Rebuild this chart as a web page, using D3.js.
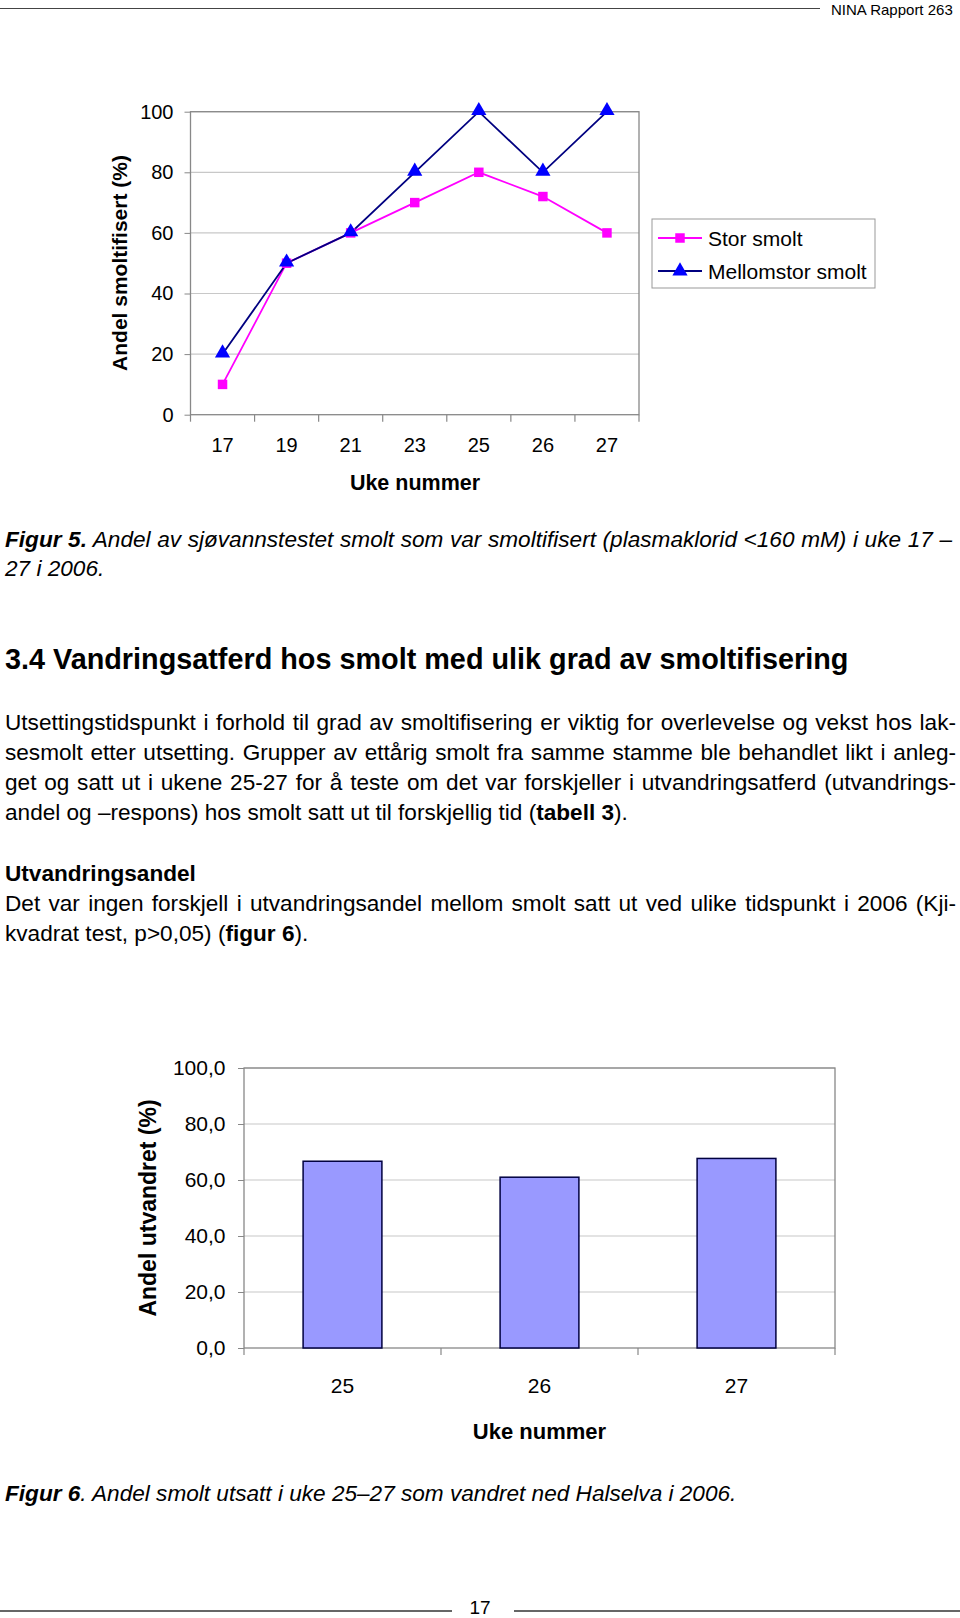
<!DOCTYPE html>
<html>
<head>
<meta charset="utf-8">
<script src="https://cdn.jsdelivr.net/npm/d3@7"></script>
<style>
  html, body { margin: 0; padding: 0; background: #fff; }
  svg { display: block; font-family: "Liberation Sans", Arial, sans-serif; }
</style>
</head>
<body>
<svg id="page" width="960" height="1618"></svg>
<script>
// Figur 5 data
const weeks5 = ["17", "19", "21", "23", "25", "26", "27"];
const storSmolt = [10, 50, 60, 70, 80, 72, 60];
const mellomstorSmolt = [20, 50, 60, 80, 100, 80, 100];
const yTicks5 = [0, 20, 40, 60, 80, 100];

// Figur 6 data
const weeks6 = ["25", "26", "27"];
const utvandret = [66.7, 61.0, 67.7];
const yTicks6 = [0, 20, 40, 60, 80, 100];

const svg = d3.select("#page");

// page header / footer
svg.append("line").attr("x1", 0).attr("x2", 820).attr("y1", 8.5).attr("y2", 8.5)
    .attr("stroke", "#444").attr("stroke-width", 1);
svg.append("text").attr("x", 831).attr("y", 15).attr("font-size", "15px").text("NINA Rapport 263");

svg.append("line").attr("x1", 0).attr("x2", 452).attr("y1", 1611).attr("y2", 1611)
    .attr("stroke", "#333").attr("stroke-width", 1.5);
svg.append("line").attr("x1", 514).attr("x2", 960).attr("y1", 1611).attr("y2", 1611)
    .attr("stroke", "#333").attr("stroke-width", 1.5);
svg.append("text").attr("x", 480).attr("y", 1614).attr("text-anchor", "middle")
    .attr("font-size", "19px").text("17");

// ---------- Figur 5: line chart ----------
const x5 = d3.scaleBand().domain(weeks5).range([190.5, 639]);
const y5 = d3.scaleLinear().domain([0, 100]).range([414.7, 111.7]);
const g5 = svg.append("g");

g5.append("g")
    .selectAll("line")
    .data(yTicks5.filter(d => d > 0))
    .join("line")
    .attr("x1", x5.range()[0]).attr("x2", x5.range()[1])
    .attr("y1", d => y5(d)).attr("y2", d => y5(d))
    .attr("stroke", "#c8c8c8").attr("stroke-width", 1.2);

g5.append("rect")
    .attr("x", x5.range()[0]).attr("y", y5(100))
    .attr("width", x5.range()[1] - x5.range()[0]).attr("height", y5(0) - y5(100))
    .attr("fill", "none").attr("stroke", "#888").attr("stroke-width", 1.3);

const yAxis5 = g5.append("g")
    .attr("transform", `translate(${x5.range()[0]},0)`)
    .call(d3.axisLeft(y5).tickValues(yTicks5).tickSize(6).tickPadding(11));
yAxis5.select(".domain").remove();
yAxis5.selectAll("line").attr("stroke", "#888");
yAxis5.selectAll("text").attr("font-size", "20px").attr("font-family", "Liberation Sans, Arial, sans-serif");

const xAxis5 = g5.append("g")
    .attr("transform", `translate(0,${y5(0)})`)
    .call(d3.axisBottom(x5).tickSize(0).tickPadding(23));
xAxis5.select(".domain").remove();
xAxis5.selectAll("text").attr("font-size", "20px").attr("font-family", "Liberation Sans, Arial, sans-serif");

// category separators below the axis
g5.append("g")
    .selectAll("line")
    .data(weeks5.map(d => x5(d)).concat([x5.range()[1]]))
    .join("line")
    .attr("x1", d => d).attr("x2", d => d)
    .attr("y1", y5(0)).attr("y2", y5(0) + 7)
    .attr("stroke", "#888").attr("stroke-width", 1.2);

g5.append("text").attr("x", 415).attr("y", 490).attr("text-anchor", "middle")
    .attr("font-size", "21.5px").attr("font-weight", "bold").text("Uke nummer");
g5.append("text").attr("transform", "translate(126.5,263) rotate(-90)").attr("text-anchor", "middle")
    .attr("font-size", "21px").attr("font-weight", "bold").text("Andel smoltifisert (%)");

const cx5 = i => x5(weeks5[i]) + x5.bandwidth() / 2;
const line5 = d3.line().x((d, i) => cx5(i)).y(d => y5(d));

g5.append("path").datum(storSmolt).attr("d", line5)
    .attr("fill", "none").attr("stroke", "#ff00ff").attr("stroke-width", 1.8);
g5.append("path").datum(mellomstorSmolt).attr("d", line5)
    .attr("fill", "none").attr("stroke", "#000080").attr("stroke-width", 1.8);

const sq = d3.symbol().type(d3.symbolSquare).size(90);
const tri = d3.symbol().type(d3.symbolTriangle).size(100);

g5.append("g").selectAll("path")
    .data(storSmolt)
    .join("path")
    .attr("transform", (d, i) => `translate(${cx5(i)},${y5(d)})`)
    .attr("d", sq).attr("fill", "#ff00ff");
g5.append("g").selectAll("path")
    .data(mellomstorSmolt)
    .join("path")
    .attr("transform", (d, i) => `translate(${cx5(i)},${y5(d) - 1})`)
    .attr("d", tri).attr("fill", "#0000ff");

// legend
const lg = g5.append("g");
lg.append("rect").attr("x", 652).attr("y", 219).attr("width", 223).attr("height", 69)
    .attr("fill", "#fff").attr("stroke", "#999").attr("stroke-width", 1);
const legendItems = [
    { name: "Stor smolt", line: "#ff00ff", fill: "#ff00ff", sym: sq },
    { name: "Mellomstor smolt", line: "#000080", fill: "#0000ff", sym: tri }
];
legendItems.forEach((d, i) => {
    const yy = 238 + i * 33;
    lg.append("line").attr("x1", 658).attr("x2", 702).attr("y1", yy).attr("y2", yy)
        .attr("stroke", d.line).attr("stroke-width", 1.8);
    lg.append("path").attr("transform", `translate(680,${yy})`).attr("d", d.sym).attr("fill", d.fill);
    lg.append("text").attr("x", 708).attr("y", yy + 7.5).attr("font-size", "21px").text(d.name);
});

// ---------- text block ----------
const W = "Liberation Sans, Arial, sans-serif";
function textLine(y, parts, size, justifyTo) {
    const t = svg.append("text").attr("x", 5).attr("y", y).attr("font-size", size + "px");
    parts.forEach(p => {
        t.append("tspan")
            .attr("font-weight", p.b ? "bold" : null)
            .attr("font-style", p.i ? "italic" : null)
            .text(p.t);
    });
    if (justifyTo) {
        const natural = t.node().getComputedTextLength();
        const spaces = (t.text().match(/ /g) || []).length;
        if (spaces > 0) t.attr("word-spacing", ((justifyTo - 5 - natural) / spaces) + "px");
    }
    return t;
}

const fs = 22.6;
textLine(547, [{ t: "Figur 5.", b: 1, i: 1 }, { t: " Andel av sjøvannstestet smolt som var smoltifisert (plasmaklorid <160 mM) i uke 17 –", i: 1 }], fs, 952);
textLine(576, [{ t: "27 i 2006.", i: 1 }], fs);

textLine(669, [{ t: "3.4 Vandringsatferd hos smolt med ulik grad av smoltifisering", b: 1 }], 28.8);

textLine(730, [{ t: "Utsettingstidspunkt i forhold til grad av smoltifisering er viktig for overlevelse og vekst hos lak-" }], fs, 956);
textLine(760, [{ t: "sesmolt etter utsetting. Grupper av ettårig smolt fra samme stamme ble behandlet likt i anleg-" }], fs, 956);
textLine(790, [{ t: "get og satt ut i ukene 25-27 for å teste om det var forskjeller i utvandringsatferd (utvandrings-" }], fs, 956);
textLine(820, [{ t: "andel og –respons) hos smolt satt ut til forskjellig tid (" }, { t: "tabell 3", b: 1 }, { t: ")." }], fs);

textLine(881, [{ t: "Utvandringsandel", b: 1 }], fs);
textLine(911, [{ t: "Det var ingen forskjell i utvandringsandel mellom smolt satt ut ved ulike tidspunkt i 2006 (Kji-" }], fs, 956);
textLine(941, [{ t: "kvadrat test, p>0,05) (" }, { t: "figur 6", b: 1 }, { t: ")." }], fs);

textLine(1501, [{ t: "Figur 6", b: 1, i: 1 }, { t: ". Andel smolt utsatt i uke 25–27 som vandret ned Halselva i 2006.", i: 1 }], fs);

// ---------- Figur 6: bar chart ----------
const x6 = d3.scaleBand().domain(weeks6).range([244, 835]).paddingInner(0.6).paddingOuter(0.3);
const y6 = d3.scaleLinear().domain([0, 100]).range([1348, 1068]);
const g6 = svg.append("g");

g6.append("g")
    .selectAll("line")
    .data(yTicks6.filter(d => d > 0))
    .join("line")
    .attr("x1", x6.range()[0]).attr("x2", x6.range()[1])
    .attr("y1", d => y6(d)).attr("y2", d => y6(d))
    .attr("stroke", "#c8c8c8").attr("stroke-width", 1.2);

g6.append("rect")
    .attr("x", x6.range()[0]).attr("y", y6(100))
    .attr("width", x6.range()[1] - x6.range()[0]).attr("height", y6(0) - y6(100))
    .attr("fill", "none").attr("stroke", "#888").attr("stroke-width", 1.3);

g6.append("g")
    .selectAll("rect")
    .data(utvandret)
    .join("rect")
    .attr("x", (d, i) => x6(weeks6[i]))
    .attr("y", d => y6(d))
    .attr("width", x6.bandwidth())
    .attr("height", d => y6(0) - y6(d))
    .attr("fill", "#9999ff").attr("stroke", "#000040").attr("stroke-width", 1.5);

const yAxis6 = g6.append("g")
    .attr("transform", `translate(${x6.range()[0]},0)`)
    .call(d3.axisLeft(y6).tickValues(yTicks6).tickSize(6).tickPadding(12.5)
        .tickFormat(d => d.toFixed(1).replace(".", ",")));
yAxis6.select(".domain").remove();
yAxis6.selectAll("line").attr("stroke", "#888");
yAxis6.selectAll("text").attr("font-size", "21px").attr("font-family", W);

const xAxis6 = g6.append("g")
    .attr("transform", `translate(0,${y6(0)})`)
    .call(d3.axisBottom(x6).tickSize(0).tickPadding(30));
xAxis6.select(".domain").remove();
xAxis6.selectAll("text").attr("font-size", "21px").attr("font-family", W);

const step6 = x6.step();
g6.append("g")
    .selectAll("line")
    .data(d3.range(weeks6.length + 1).map(i => x6.range()[0] + i * step6))
    .join("line")
    .attr("x1", d => d).attr("x2", d => d)
    .attr("y1", y6(0)).attr("y2", y6(0) + 7)
    .attr("stroke", "#888").attr("stroke-width", 1.2);

g6.append("text").attr("x", 539.5).attr("y", 1439).attr("text-anchor", "middle")
    .attr("font-size", "22px").attr("font-weight", "bold").text("Uke nummer");
g6.append("text").attr("transform", "translate(156,1208) rotate(-90)").attr("text-anchor", "middle")
    .attr("font-size", "23px").attr("font-weight", "bold").text("Andel utvandret (%)");
</script>
</body>
</html>
